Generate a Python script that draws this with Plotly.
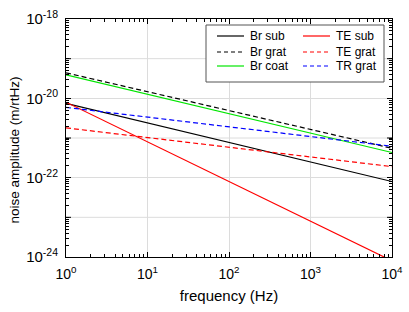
import plotly.graph_objects as go

# Data: power-law noise curves, values at the ends of the range
freq = [1, 10000]
br_sub = [7.5e-21, 8.0e-23]
br_grat = [4.4e-20, 5.5e-22]
br_coat = [3.9e-20, 4.3e-22]
te_sub = [8.0e-21, 8.0e-25]
te_grat = [1.8e-21, 1.9e-22]
tr_grat = [5.9e-21, 6.2e-22]

series = [
    ("Br sub", br_sub, "#000000", "solid"),
    ("Br grat", br_grat, "#000000", "5px,3px"),
    ("Br coat", br_coat, "#00e600", "solid"),
    ("TE sub", te_sub, "#ff0000", "solid"),
    ("TE grat", te_grat, "#ff0000", "5px,3px"),
    ("TR grat", tr_grat, "#0000ff", "5px,3px"),
]

x_tick_vals = [1, 10, 100, 1000, 10000]
x_tick_text = ["10<sup>0</sup>", "10<sup>1</sup>", "10<sup>2</sup>", "10<sup>3</sup>", "10<sup>4</sup>"]
y_tick_vals = [1e-24, 1e-22, 1e-20, 1e-18]
y_tick_text = ["10<sup>-24</sup>", "10<sup>-22</sup>", "10<sup>-20</sup>", "10<sup>-18</sup>"]
y_odd_grid = [1e-23, 1e-21, 1e-19]
x_title = "frequency (Hz)"
y_title = "noise amplitude (m/rtHz)"

fig = go.Figure()
for name, vals, color, dash in series:
    fig.add_trace(go.Scatter(x=freq, y=vals, mode="lines", name=name,
                             line=dict(color=color, width=1.2, dash=dash),
                             showlegend=False, cliponaxis=True))

W, H = 409, 312
L, R, T, B = 66, 17, 19, 55
pw, ph = W - L - R, H - T - B

def px(x):
    return (x - L) / pw

def py(y):
    return (H - B - y) / ph

font = "Liberation Sans, Arial, sans-serif"
shapes = []
annotations = []
# grid lines and ticks at odd decades (unlabelled)
for v in y_odd_grid:
    shapes.append(dict(type="line", xref="paper", yref="y", x0=0, x1=1, y0=v, y1=v,
                       line=dict(color="#dcdcdc", width=1), layer="below"))
    for xa, xb in ((0, 5 / pw), (1 - 5 / pw, 1)):
        shapes.append(dict(type="line", xref="paper", yref="y", x0=xa, x1=xb, y0=v, y1=v,
                           line=dict(color="black", width=1), layer="above"))
# legend box
shapes.append(dict(type="rect", xref="paper", yref="paper", x0=px(206), x1=px(384),
                   y0=py(82), y1=py(25), line=dict(color="#555555", width=1),
                   fillcolor="white", layer="above"))
legend_layout = [(0, 0), (0, 1), (0, 2), (1, 0), (1, 1), (1, 2)]
col_line = [(217, 244, 248), (303, 330, 334)]
row_y = [36, 52, 66]
for (name, vals, color, dash), (c, r) in zip(series, legend_layout):
    x0, x1, xt = col_line[c]
    yy = row_y[r]
    d = "solid" if dash == "solid" else "4px,3px"
    shapes.append(dict(type="line", xref="paper", yref="paper", x0=px(x0), x1=px(x1),
                       y0=py(yy), y1=py(yy), line=dict(color=color, width=1.2, dash=d),
                       layer="above"))
    annotations.append(dict(text=name, xref="paper", yref="paper", x=px(xt), y=py(yy),
                            xanchor="left", yanchor="middle", showarrow=False,
                            font=dict(family=font, size=12, color="black")))
# y-axis title (placed as in the reference, slightly below the plot centre)
annotations.append(dict(text=y_title, xref="paper", yref="paper", x=px(14), y=py(150.5),
                        xanchor="center", yanchor="middle", textangle=-90, showarrow=False,
                        font=dict(family=font, size=13.5, color="black")))

axis_common = dict(showline=True, linecolor="black", linewidth=1, mirror="ticks",
                   ticks="inside", ticklen=5, tickcolor="black",
                   showgrid=True, gridcolor="#dcdcdc", gridwidth=1,
                   minor=dict(ticks="inside", ticklen=3, tickcolor="black", showgrid=False,
                              dtick="D1"),
                   ticklabeloverflow="allow", automargin=False,
                   zeroline=False)

fig.update_layout(
    width=W, height=H,
    margin=dict(l=L, r=R, t=T, b=B),
    paper_bgcolor="white", plot_bgcolor="white",
    shapes=shapes, annotations=annotations,
    xaxis=dict(type="log", range=[0, 4], tickvals=x_tick_vals, ticktext=x_tick_text,
               tickfont=dict(family=font, size=14, color="black"), ticklabelstandoff=4,
               title=dict(text=x_title, font=dict(family=font, size=15, color="black"),
                          standoff=9),
               **axis_common),
    yaxis=dict(type="log", range=[-24, -18], tickvals=y_tick_vals, ticktext=y_tick_text,
               tickfont=dict(family=font, size=15, color="black"), ticklabelstandoff=4,
               **axis_common),
)

fig.write_html("out.html", config={"displayModeBar": False},
               post_script="document.body.style.margin='0';document.body.style.padding='0';")
